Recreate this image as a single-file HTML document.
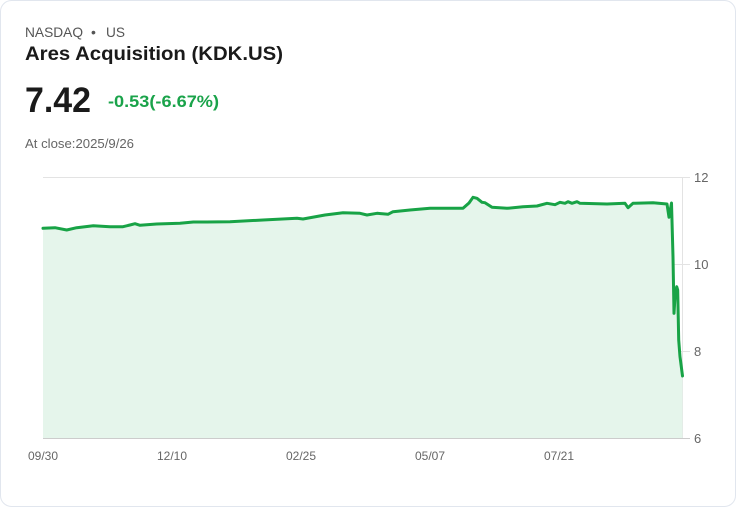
<!DOCTYPE html>
<html><head><meta charset="utf-8"><style>
html,body{margin:0;padding:0;background:#fff;}
body{width:736px;height:508px;overflow:hidden;font-family:"Liberation Sans",Arial,sans-serif;}
</style></head><body>
<svg width="736" height="508" viewBox="0 0 736 508" xmlns="http://www.w3.org/2000/svg" font-family="Liberation Sans, Arial, sans-serif">
<rect x="0.5" y="0.5" width="735" height="506" rx="11" ry="11" fill="#fff" stroke="#e1e6ee" stroke-width="1"/>
<text x="25" y="37" font-size="14" fill="#555" textLength="58" lengthAdjust="spacingAndGlyphs">NASDAQ</text>
<text x="91" y="37" font-size="14" fill="#555">•</text>
<text x="106" y="37" font-size="14" fill="#555" textLength="19" lengthAdjust="spacingAndGlyphs">US</text>
<text x="25" y="60" font-size="19.5" font-weight="bold" fill="#1a1a1a" textLength="258" lengthAdjust="spacingAndGlyphs">Ares Acquisition (KDK.US)</text>
<text x="25" y="112" font-size="35" font-weight="bold" fill="#1a1a1a" textLength="66" lengthAdjust="spacingAndGlyphs">7.42</text>
<text x="108" y="107" font-size="16.5" font-weight="bold" fill="#1aa34a" textLength="111" lengthAdjust="spacingAndGlyphs">-0.53(-6.67%)</text>
<text x="25" y="148" font-size="12.5" fill="#666" textLength="109" lengthAdjust="spacingAndGlyphs">At close:2025/9/26</text>
<g stroke="#e3e3e3" stroke-width="1">
<line x1="43" y1="177.5" x2="690" y2="177.5"/>
<line x1="43" y1="264.5" x2="690" y2="264.5"/>
<line x1="43" y1="351.5" x2="690" y2="351.5"/>
<line x1="682.5" y1="177" x2="682.5" y2="438"/>
</g>
<path fill="#e5f5eb" d="M43,228.3 L55,227.7 L66.7,230 L76.7,227.7 L93.3,225.7 L110,226.7 L123,226.7 L130,225 L135,223.7 L140,225.3 L156.7,224 L180,223.3 L193.3,222 L206.7,222 L230,221.7 L263,220 L297,218.3 L303,219 L325,215 L343,212.7 L360,213.3 L367,215 L377,213.3 L388,214.3 L393,211.7 L410,210 L430,208.3 L463,208.3 L469,203 L473,197.3 L477,198.3 L482,202.3 L485,202.7 L492,207.3 L507,208.3 L523,206.7 L537,206 L547,203.3 L555,204.7 L560,202.3 L565,203.3 L568,201.7 L572,203.3 L577,201.7 L580,203.3 L607,204 L625,203.3 L628,207.7 L633,203.3 L653,202.7 L667,204 L669,217.3 L671.5,203 L673,256.7 L674,313.3 L675,296.7 L676.7,286.7 L677.7,290 L678.7,340 L680,356.7 L682.5,376 L682.5,438 L43,438 Z"/>
<line x1="43" y1="438.5" x2="690" y2="438.5" stroke="#cccccc" stroke-width="1"/>
<path fill="none" stroke="#18a346" stroke-width="3" stroke-linejoin="round" stroke-linecap="round" d="M43,228.3 L55,227.7 L66.7,230 L76.7,227.7 L93.3,225.7 L110,226.7 L123,226.7 L130,225 L135,223.7 L140,225.3 L156.7,224 L180,223.3 L193.3,222 L206.7,222 L230,221.7 L263,220 L297,218.3 L303,219 L325,215 L343,212.7 L360,213.3 L367,215 L377,213.3 L388,214.3 L393,211.7 L410,210 L430,208.3 L463,208.3 L469,203 L473,197.3 L477,198.3 L482,202.3 L485,202.7 L492,207.3 L507,208.3 L523,206.7 L537,206 L547,203.3 L555,204.7 L560,202.3 L565,203.3 L568,201.7 L572,203.3 L577,201.7 L580,203.3 L607,204 L625,203.3 L628,207.7 L633,203.3 L653,202.7 L667,204 L669,217.3 L671.5,203 L673,256.7 L674,313.3 L675,296.7 L676.7,286.7 L677.7,290 L678.7,340 L680,356.7 L682.5,376"/>
<g font-size="13" fill="#666">
<text x="694" y="182">12</text>
<text x="694" y="269">10</text>
<text x="694" y="356">8</text>
<text x="694" y="443">6</text>
</g>
<g font-size="12" fill="#666" text-anchor="middle">
<text x="43" y="460">09/30</text>
<text x="172" y="460">12/10</text>
<text x="301" y="460">02/25</text>
<text x="430" y="460">05/07</text>
<text x="559" y="460">07/21</text>
</g>
</svg>
</body></html>
